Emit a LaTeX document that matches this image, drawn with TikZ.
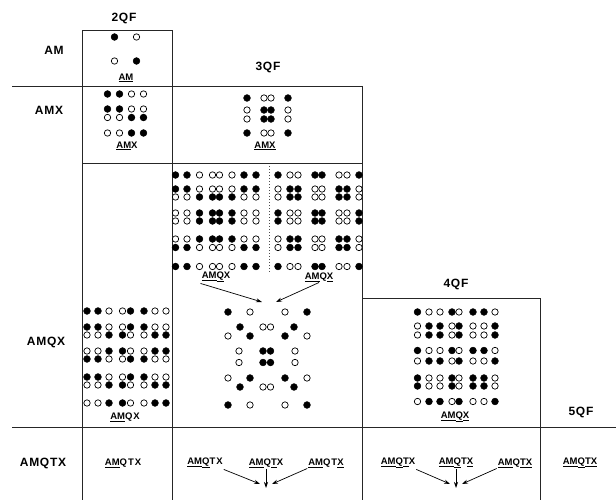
\documentclass[tikz,border=0pt]{standalone}
\usepackage{fontspec}
\setmainfont{Liberation Sans}
\newfontfamily\rowf[LetterSpace=6]{Liberation Sans}
\newfontfamily\labf[LetterSpace=10]{Liberation Sans}
\usetikzlibrary{arrows.meta,calc}
\newcommand{\uu}[1]{\underline{#1}}
\newcommand{\patrow}[3]{%
  \foreach \tp [count=\ii] in {#3} {%
    \pgfmathsetmacro{\xx}{#1[\ii-1]}%
    \if F\tp \node[dotf] at (\xx,#2) {};\else \node[doto] at (\xx,#2) {};\fi
  }%
}
\def\colsM{{114.5,136.5}}
\def\colsA{{107.5,119.5,131.5,143.5}}
\def\colsB{{247,264,271,288}}
\def\colsL{{175.5,187,199.5,212.5,219.5,232,244,256}}
\def\colsR{{278,290,298,315,322,339,347,359}}
\def\colsQ{{87,98,109,122.5,130.5,144,155,166}}
\def\colsV{{417.5,429,440,452,459,473,484,495}}
\begin{document}
\begin{tikzpicture}[x=1pt,y=-1pt,
  dotf/.style={circle,fill=black,draw=black,line width=0.5pt,inner sep=0pt,minimum size=6.8pt},
  doto/.style={circle,fill=white,draw=black,line width=0.7pt,inner sep=0pt,minimum size=6.4pt},
  rowlab/.style={font=\rowf\bfseries\fontsize{12}{14}\selectfont,inner sep=1pt},
  plab/.style={font=\labf\bfseries\fontsize{9.5}{11}\selectfont,inner sep=1pt},
  gridl/.style={line width=0.8pt,black!85},
  arr/.style={line width=0.7pt,-{Stealth[length=6pt,width=4pt]}}]
\useasboundingbox (0,0) rectangle (616,500);

% grid lines
\draw[gridl] (82,500) -- (82,30) -- (172,30) -- (172,500);
\draw[gridl] (12,86) -- (362,86);
\draw[gridl] (82,163) -- (362,163);
\draw[gridl] (362,86) -- (362,500);
\draw[gridl] (362,298) -- (540,298) -- (540,500);
\draw[gridl] (12,427) -- (616,427);
\draw[line width=0.6pt,black!70,dash pattern=on 1pt off 2pt] (269,166) -- (269,272);

% headers
\node[rowlab] (h2) at (124,18) {2QF};
\node[rowlab] (h3) at (268,67) {3QF};
\node[rowlab] (h4) at (456,284) {4QF};
\node[rowlab] (h5) at (581,412) {5QF};

% row labels
\node[rowlab] (r1) at (54,50) {AM};
\node[rowlab] (r2) at (49,110) {AMX};
\node[rowlab] (r3) at (46,342) {AMQX};
\node[rowlab] (r4) at (43,463) {AMQTX};

% 2QF AM
\patrow{\colsM}{37}{F,O}
\patrow{\colsM}{61}{O,F}
\node[plab] (pam) at (126,78) {\uu{A}\uu{M}};

% 2QF AMX
\patrow{\colsA}{94}{F,F,O,O}
\patrow{\colsA}{109}{F,F,O,O}
\patrow{\colsA}{117.5}{O,O,F,F}
\patrow{\colsA}{133}{O,O,F,F}
\node[plab] (pamx2) at (127,146) {\uu{A}\uu{M}X};

% 3QF AMX
\patrow{\colsB}{98}{F,O,O,F}
\patrow{\colsB}{110}{O,F,F,O}
\patrow{\colsB}{119}{O,F,F,O}
\patrow{\colsB}{133}{F,O,O,F}
\node[plab] (pamx3) at (265,146) {\uu{A}\uu{M}\uu{X}};

% 3QF AMQX left block
\patrow{\colsL}{175}{F,F,O,O,O,O,F,F}
\patrow{\colsL}{189}{F,F,O,O,O,O,F,F}
\patrow{\colsL}{197}{O,O,F,F,F,F,O,O}
\patrow{\colsL}{213}{O,O,F,F,F,F,O,O}
\patrow{\colsL}{221}{O,O,F,F,F,F,O,O}
\patrow{\colsL}{239}{O,O,F,F,F,F,O,O}
\patrow{\colsL}{247.5}{F,F,O,O,O,O,F,F}
\patrow{\colsL}{266.5}{F,F,O,O,O,O,F,F}
% 3QF AMQX right block
\patrow{\colsR}{175}{F,O,O,F,F,O,O,F}
\patrow{\colsR}{189}{O,F,F,O,O,F,F,O}
\patrow{\colsR}{197}{O,F,F,O,O,F,F,O}
\patrow{\colsR}{213}{F,O,O,F,F,O,O,F}
\patrow{\colsR}{221}{F,O,O,F,F,O,O,F}
\patrow{\colsR}{239}{O,F,F,O,O,F,F,O}
\patrow{\colsR}{247.5}{O,F,F,O,O,F,F,O}
\patrow{\colsR}{266.5}{F,O,O,F,F,O,O,F}
\node[plab] (pq3a) at (216,277) {\uu{A}\uu{M}\uu{Q}X};
\node[plab] (pq3b) at (319,277) {\uu{A}\uu{M}Q\uu{X}};
\coordinate (q3e1) at (262,302);
\coordinate (q3e2) at (276,302);
\draw[arr] (pq3a.south west) -- (q3e1);
\draw[arr] (pq3b.south) -- (q3e2);

% 3QF AMQX combined (X pattern)
\foreach \x/\y/\tp in {228/312/F,250/312/O,285/312/O,307/312/F,
  240/327/F,263/327/O,270.5/327/O,294/327/F,
  228/336/O,250/336/F,285/336/F,307/336/O,
  239/351/O,263/351/F,270.5/351/F,295/351/O,
  239/362.5/O,263/362.5/F,270.5/362.5/F,295/362.5/O,
  228/378/O,250/378/F,285/378/F,307/378/O,
  240/387/F,263/387/O,270.5/387/O,294/387/F,
  228/405/F,250/405/O,285/405/O,307/405/F}{
  \if F\tp \node[dotf] at (\x,\y) {};\else \node[doto] at (\x,\y) {};\fi
}

% 2QF AMQX
\patrow{\colsQ}{311}{F,F,O,O,F,F,O,O}
\patrow{\colsQ}{327}{F,F,O,O,F,F,O,O}
\patrow{\colsQ}{335}{O,O,F,F,O,O,F,F}
\patrow{\colsQ}{351}{O,O,F,F,O,O,F,F}
\patrow{\colsQ}{359}{F,F,O,O,F,F,O,O}
\patrow{\colsQ}{377}{F,F,O,O,F,F,O,O}
\patrow{\colsQ}{385}{O,O,F,F,O,O,F,F}
\patrow{\colsQ}{403}{O,O,F,F,O,O,F,F}
\node[plab] (pq2) at (125,417) {\uu{A}\uu{M}QX};

% 4QF AMQX
\patrow{\colsV}{312}{F,O,O,F,O,F,F,O}
\patrow{\colsV}{326}{O,F,F,O,F,O,O,F}
\patrow{\colsV}{335}{O,F,F,O,F,O,O,F}
\patrow{\colsV}{350.5}{F,O,O,F,O,F,F,O}
\patrow{\colsV}{361}{O,F,F,O,F,O,O,F}
\patrow{\colsV}{378}{F,O,O,F,O,F,F,O}
\patrow{\colsV}{386}{F,O,O,F,O,F,F,O}
\patrow{\colsV}{401.5}{O,F,F,O,F,O,O,F}
\node[plab] (pq4) at (455,417) {\uu{A}\uu{M}\uu{Q}\uu{X}};

% AMQTX row
\node[plab] (t2) at (123,463) {\uu{A}\uu{M}QTX};
\node[plab] (t3a) at (205,463) {\uu{A}\uu{M}\uu{Q}TX};
\node[plab] (t3b) at (266,463) {\uu{A}\uu{M}Q\uu{T}X};
\node[plab] (t3c) at (326,463) {\uu{A}\uu{M}QT\uu{X}};
\node[plab] (t4a) at (398,463) {\uu{A}\uu{M}\uu{Q}\uu{T}X};
\node[plab] (t4b) at (456,463) {\uu{A}\uu{M}\uu{Q}T\uu{X}};
\node[plab] (t4c) at (515,463) {\uu{A}\uu{M}Q\uu{T}\uu{X}};
\node[plab] (t5) at (580,463) {\uu{A}\uu{M}\uu{Q}\uu{T}\uu{X}};

\coordinate (e3l) at (260,484);
\coordinate (e3m) at (266,488);
\coordinate (e3r) at (272,484);
\draw[arr] (t3a.south east) -- (e3l);
\draw[arr] (t3b.south) -- (e3m);
\draw[arr] (t3c.south west) -- (e3r);
\coordinate (e4l) at (450,484);
\coordinate (e4m) at (456,488);
\coordinate (e4r) at (462,484);
\draw[arr] (t4a.south east) -- (e4l);
\draw[arr] (t4b.south) -- (e4m);
\draw[arr] (t4c.south west) -- (e4r);
\end{tikzpicture}
\end{document}
